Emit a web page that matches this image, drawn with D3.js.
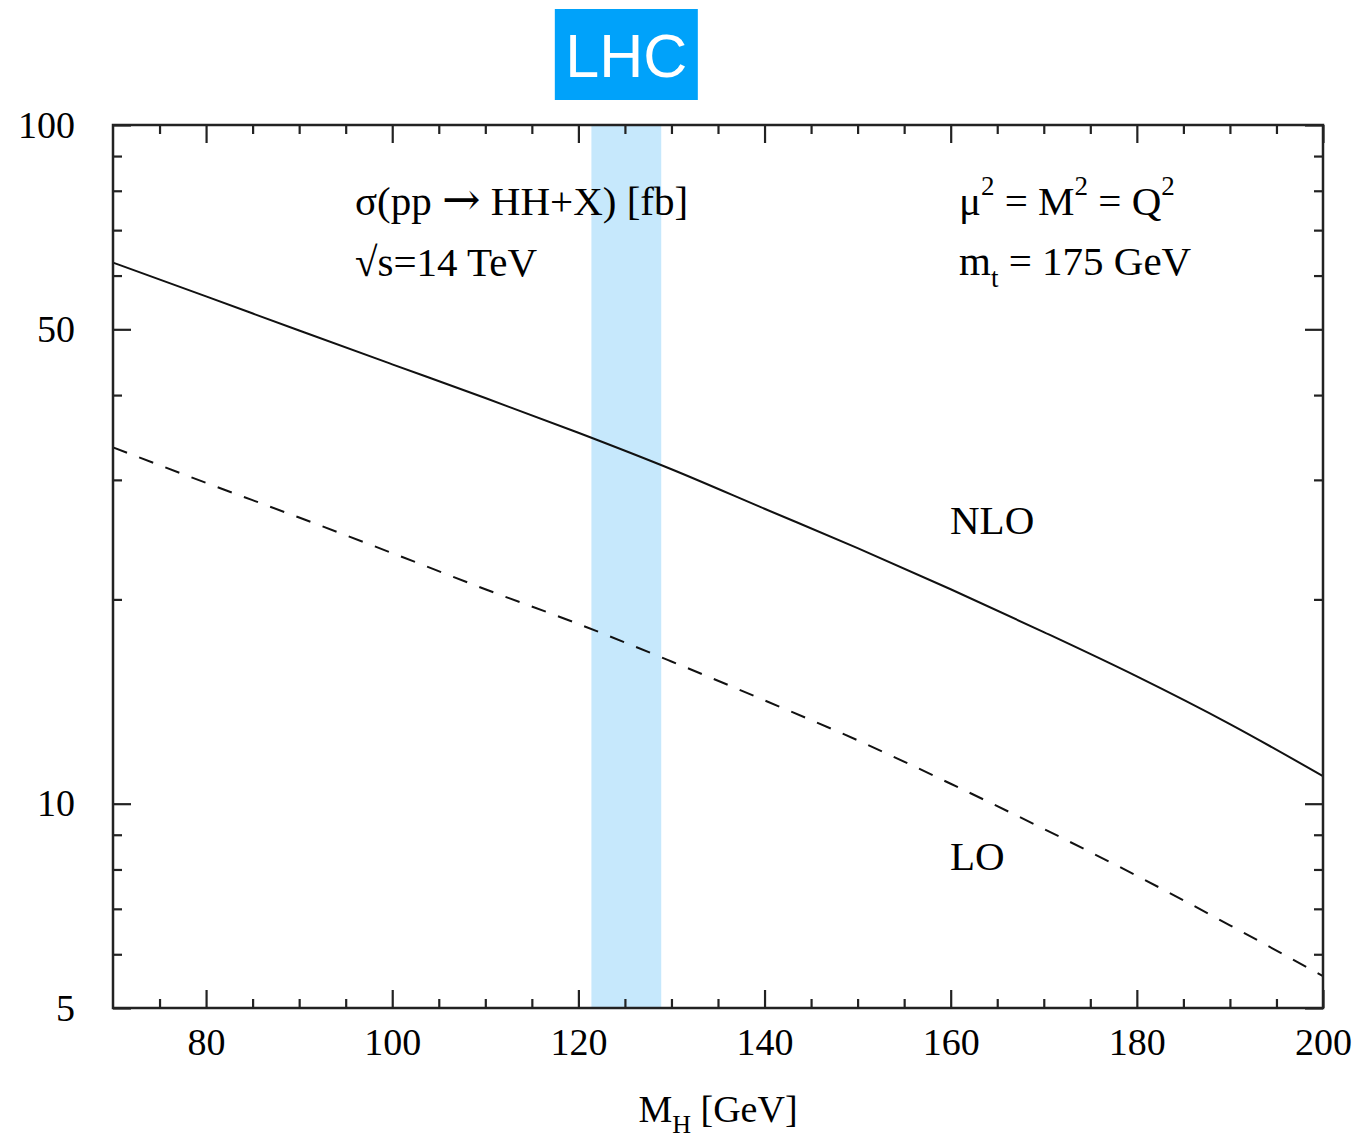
<!DOCTYPE html>
<html>
<head>
<meta charset="utf-8">
<script src="https://cdn.jsdelivr.net/npm/d3@7"></script>
<style>
body{margin:0;background:#fff;}
svg text{font-family:"Liberation Serif","Times New Roman",serif;fill:#000;}
.tick line{stroke:#222;stroke-width:2.2;}
</style>
</head>
<body>
<div id="chart"></div>
<script>
//cross section data
var massValues = [70,80,90,100,110,120,130,140,150,160,170,180,190,200];
var nloValues = [62.7,55.9,49.8,44.4,39.6,35.2,31.1,27.2,23.8,20.7,17.9,15.4,13.1,10.98];
var loValues = [33.5,29.7,26.4,23.4,20.7,18.4,16.2,14.2,12.4,10.7,9.18,7.83,6.62,5.57];
var lhcBand = [121.4,128.9];

var xTickLabels = [80,100,120,140,160,180,200];
var xMinorTicks = [75,85,90,95,105,110,115,125,130,135,145,150,155,165,170,175,185,190,195];
var yTickLabels = [5,10,50,100];
var yMinorTicks = [6,7,8,9,20,30,40,60,70,80,90];

function plotCross(){
	var left = 113, top = 125;
	var width = 1210;
	var height = 883;

	var svg = d3.select('#chart').append("svg")
		.attr("width",1360)
		.attr("height",1141);

	var xScale = d3.scaleLinear()
		.domain([70,200])
		.range([0,width]);

	var yScale = d3.scaleLog()
		.domain([5,100])
		.range([height,0]);

	var g = svg.append("g")
		.attr("transform","translate("+left+","+top+")");

	//LHC band
	g.append("rect")
		.attr("x",xScale(lhcBand[0]))
		.attr("y",0)
		.attr("width",xScale(lhcBand[1]) - xScale(lhcBand[0]))
		.attr("height",height)
		.attr("fill","#c6e8fc");

	//LHC label box above band
	var bandMid = (xScale(lhcBand[0]) + xScale(lhcBand[1]))/2 + left;
	svg.append("rect")
		.attr("x",bandMid - 71.5)
		.attr("y",9)
		.attr("width",143)
		.attr("height",91)
		.attr("fill","#00a2fa");
	svg.append("text")
		.attr("x",bandMid)
		.attr("y",77)
		.attr("text-anchor","middle")
		.style("font-family","'Liberation Sans',Arial,sans-serif")
		.style("font-size","61px")
		.style("fill","#fff")
		.text("LHC");

	var lineGenerator = d3.line()
		.x(function(d,i){ return xScale(massValues[i]); })
		.y(function(d){ return yScale(d); })
		.curve(d3.curveMonotoneX);

	g.append("path")
		.attr("d",lineGenerator(nloValues))
		.attr("fill","none")
		.attr("stroke","#111")
		.attr("stroke-width",2);

	g.append("path")
		.attr("d",lineGenerator(loValues))
		.attr("fill","none")
		.attr("stroke","#111")
		.attr("stroke-width",2)
		.attr("stroke-dasharray","15,13");

	//axes, ticks pointing inward on all four sides
	function addAxis(axis, tr){
		var a = g.append("g").attr("transform",tr).call(axis);
		a.select(".domain").remove();
		return a;
	}

	var xb = addAxis(d3.axisBottom(xScale).tickValues(xTickLabels).tickSize(-18).tickSizeOuter(0).tickPadding(20)
		.tickFormat(d3.format("d")), "translate(0,"+height+")");
	xb.selectAll("text").style("font-size","38px").attr("fill","#000");
	addAxis(d3.axisBottom(xScale).tickValues(xMinorTicks).tickSize(-9).tickFormat(""), "translate(0,"+height+")");
	addAxis(d3.axisTop(xScale).tickValues(xTickLabels).tickSize(-18).tickFormat(""), "translate(0,0)");
	addAxis(d3.axisTop(xScale).tickValues(xMinorTicks).tickSize(-9).tickFormat(""), "translate(0,0)");

	var yl = addAxis(d3.axisLeft(yScale).tickValues(yTickLabels).tickSize(-18).tickSizeOuter(0).tickPadding(38)
		.tickFormat(d3.format("d")), "translate(0,0)");
	yl.selectAll("text").style("font-size","38px").attr("fill","#000");
	addAxis(d3.axisLeft(yScale).tickValues(yMinorTicks).tickSize(-9).tickFormat(""), "translate(0,0)");
	addAxis(d3.axisRight(yScale).tickValues(yTickLabels).tickSize(-18).tickFormat(""), "translate("+width+",0)");
	addAxis(d3.axisRight(yScale).tickValues(yMinorTicks).tickSize(-9).tickFormat(""), "translate("+width+",0)");

	//frame
	g.append("rect")
		.attr("width",width)
		.attr("height",height)
		.attr("fill","none")
		.attr("stroke","#222")
		.attr("stroke-width",2.5);

	//texts
	var fs = "41px";
	var sig = g.append("text")
		.attr("x",242).attr("y",90)
		.style("font-size",fs);
	sig.append("tspan").text("σ(pp ");
	sig.append("tspan").style("font-family","'DejaVu Serif'").style("font-size","46px").text("→");
	sig.append("tspan").text(" HH+X) [fb]");
	g.append("text")
		.attr("x",242).attr("y",151)
		.style("font-size",fs)
		.text("√s=14 TeV");

	var mu = g.append("text")
		.attr("x",846).attr("y",90)
		.style("font-size",fs);
	mu.append("tspan").text("μ");
	mu.append("tspan").attr("dy",-20).style("font-size","27px").text("2");
	mu.append("tspan").attr("dy",20).text(" = M");
	mu.append("tspan").attr("dy",-20).style("font-size","27px").text("2");
	mu.append("tspan").attr("dy",20).text(" = Q");
	mu.append("tspan").attr("dy",-20).style("font-size","27px").text("2");

	var mt = g.append("text")
		.attr("x",846).attr("y",150)
		.style("font-size",fs);
	mt.append("tspan").text("m");
	mt.append("tspan").attr("dy",12).style("font-size","27px").text("t");
	mt.append("tspan").attr("dy",-12).text(" = 175 GeV");

	g.append("text")
		.attr("x",837).attr("y",409)
		.style("font-size",fs)
		.text("NLO");
	g.append("text")
		.attr("x",837).attr("y",745)
		.style("font-size",fs)
		.text("LO");

	var xt = svg.append("text")
		.attr("x",left + width/2)
		.attr("y",1122)
		.attr("text-anchor","middle")
		.style("font-size","38px");
	xt.append("tspan").text("M");
	xt.append("tspan").attr("dy",11).style("font-size","26px").text("H");
	xt.append("tspan").attr("dy",-11).text(" [GeV]");
}

plotCross();
</script>
</body>
</html>
